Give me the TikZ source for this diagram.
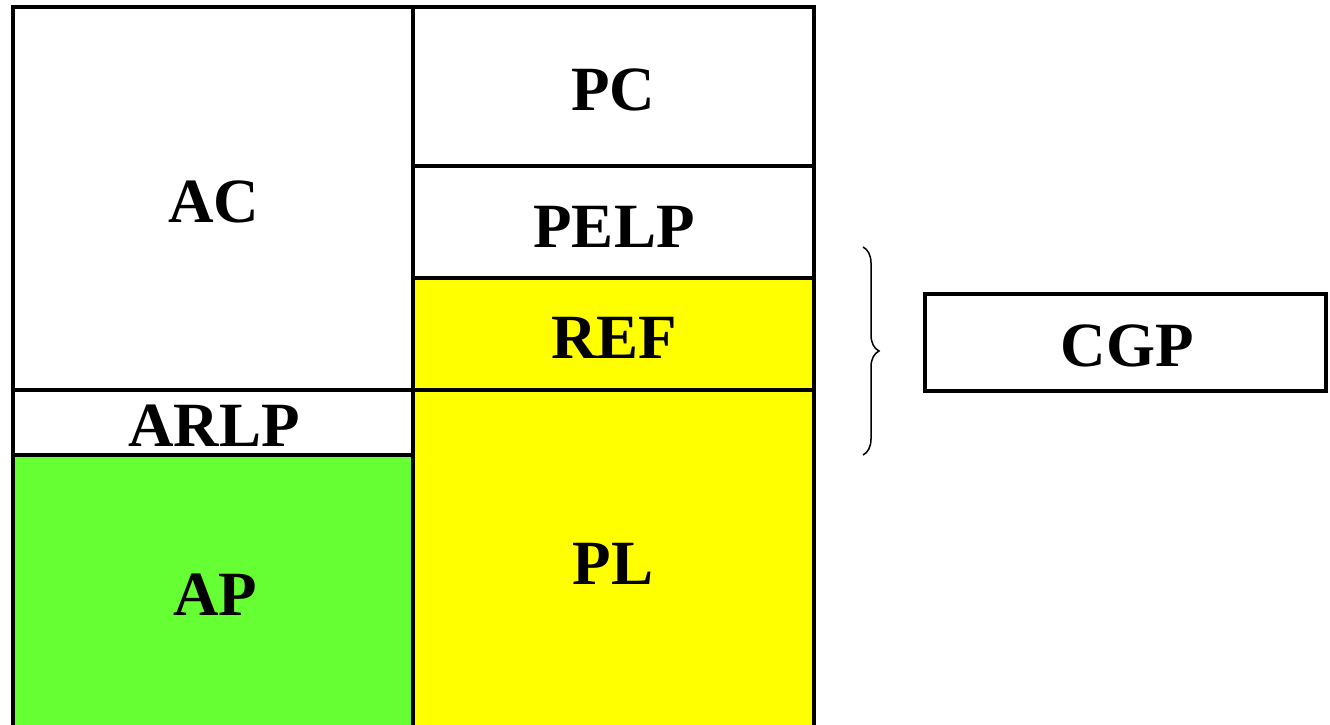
\documentclass[tikz,border=0pt]{standalone}
\usepackage{fontspec}
\setmainfont{Liberation Serif}
\usetikzlibrary{decorations.pathreplacing}
\definecolor{apgreen}{RGB}{102,255,51}
\definecolor{plyellow}{RGB}{255,255,0}
\tikzset{
  cell/.style={draw=black, line width=4.5pt},
  lbl/.style={inner sep=0pt, anchor=base, font=\fontsize{63}{63}\selectfont\bfseries},
  bracestyle/.style={draw=black, line width=1.5pt, decorate, decoration={brace, amplitude=16pt}}
}
\begin{document}
\begin{tikzpicture}[x=1pt, y=-1pt]
\useasboundingbox (0,0) rectangle (1330,725);
% cells
\fill[plyellow] (413,278) rectangle (814,728);
\fill[apgreen] (13,455) rectangle (413,728);
\draw[cell] (13,7) rectangle (413,390);
\draw[cell] (13,390) rectangle (413,455);
\draw[cell] (13,455) rectangle (413,728);
\draw[cell] (413,7) rectangle (814,166);
\draw[cell] (413,166) rectangle (814,278);
\draw[cell] (413,278) rectangle (814,390);
\draw[cell] (413,390) rectangle (814,728);
\draw[cell] (925,294) rectangle (1326,391);
% labels
\node[lbl] (ac) at (214,222) {AC};
\node[lbl] (arlp) at (214,446) {ARLP};
\node[lbl] (ap) at (215,615) {AP};
\node[lbl] (pc) at (613,110) {PC};
\node[lbl] (pelp) at (614,247) {PELP};
\node[lbl] (ref) at (614,358) {REF};
\node[lbl] (pl) at (613,584) {PL};
\node[lbl] (cgp) at (1127,366) {CGP};
% brace
\coordinate (bt) at (863,247);
\coordinate (bb) at (863,455);
\draw[bracestyle] (bt) -- (bb);
\end{tikzpicture}
\end{document}
